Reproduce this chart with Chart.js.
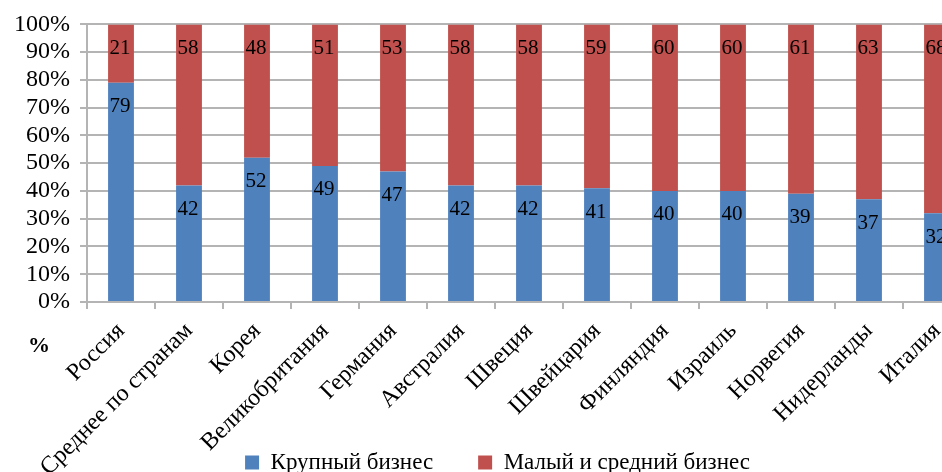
<!DOCTYPE html>
<html>
<head>
<meta charset="utf-8">
<script src="https://cdn.jsdelivr.net/npm/chart.js@4.4.1/dist/chart.umd.min.js"></script>
<style>
    html, body { margin: 0; padding: 0; background: #fff; overflow: hidden; }
    #wrap { position: absolute; left: 0; top: 0; width: 985px; height: 550px; }
    #pct { position: absolute; left: 28px; top: 332px; font-family: 'Liberation Serif'; font-weight: bold; font-size: 22px; color: #000; }
</style>
</head>
<body>
<div id="wrap"><canvas id="chart"></canvas></div>
<div id="pct">%</div>
<script>
// Доля крупного и малого/среднего бизнеса, %
const countries = ['Россия', 'Среднее по странам', 'Корея', 'Великобритания', 'Германия', 'Австралия',
    'Швеция', 'Швейцария', 'Финляндия', 'Израиль', 'Норвегия', 'Нидерланды', 'Италия'];
const bigBusiness = [79, 42, 52, 49, 47, 42, 42, 41, 40, 40, 39, 37, 32];
const smallBusiness = [21, 58, 48, 51, 53, 58, 58, 59, 60, 60, 61, 63, 68];
const yTicks = [0, 10, 20, 30, 40, 50, 60, 70, 80, 90, 100];

const SERIF = 'Liberation Serif';
const GRID = '#b4b4b4';

// value labels placed just inside the top of each segment
const valueLabels = {
    id: 'valueLabels',
    afterDatasetsDraw(chart) {
        const ctx = chart.ctx;
        ctx.save();
        ctx.font = "21px 'Liberation Serif'";
        ctx.fillStyle = '#000';
        ctx.textAlign = 'center';
        ctx.textBaseline = 'middle';
        chart.data.datasets.forEach((ds, i) => {
            chart.getDatasetMeta(i).data.forEach((bar, j) => {
                ctx.fillText(ds.data[j], bar.x - 1, bar.y + 24);
            });
        });
        ctx.restore();
    }
};

// the rotated country names run down beside the legend, so the legend
// is pulled up from under the x axis box before drawing
const liftLegend = {
    id: 'liftLegend',
    beforeDraw(chart) {
        const lg = chart.legend;
        const h = lg.height;
        lg.top = 406;
        lg.bottom = lg.top + h;
        lg.left += 12;
        lg.right += 12;
    }
};

new Chart(document.getElementById('chart'), {
    type: 'bar',
    data: {
        labels: countries,
        datasets: [
            { label: 'Крупный бизнес', data: bigBusiness, backgroundColor: '#4f81bd' },
            { label: 'Малый и средний бизнес', data: smallBusiness, backgroundColor: '#c0504d' }
        ]
    },
    options: {
        responsive: true,
        maintainAspectRatio: false,
        animation: false,
        categoryPercentage: 1,
        barPercentage: 0.38,
        font: { family: SERIF },
        layout: { padding: { top: 23, left: 0, right: 14, bottom: 0 } },
        plugins: {
            legend: {
                position: 'bottom',
                labels: {
                    color: '#000',
                    font: { family: SERIF, size: 23 },
                    boxWidth: 14,
                    boxHeight: 14,
                    padding: 45
                }
            },
            tooltip: { enabled: false }
        },
        scales: {
            x: {
                stacked: true,
                offset: true,
                grid: { display: true, drawOnChartArea: false, color: GRID, lineWidth: 2, tickLength: 7, offset: true },
                border: { color: GRID, width: 2 },
                ticks: {
                    color: '#000',
                    font: { family: SERIF, size: 24 },
                    autoSkip: false,
                    minRotation: 45,
                    maxRotation: 45,
                    padding: 8
                },
                afterFit: (scale) => { scale.height = 170; }
            },
            y: {
                stacked: true,
                min: 0,
                max: 100,
                afterBuildTicks: (scale) => { scale.ticks = yTicks.map(v => ({ value: v })); },
                grid: { color: GRID, lineWidth: 2, tickLength: 7 },
                border: { color: GRID, width: 2 },
                ticks: {
                    color: '#000',
                    font: { family: SERIF, size: 24 },
                    autoSkip: false,
                    padding: 10,
                    callback: (v) => v + '%'
                },
                afterFit: (scale) => { scale.width = 87; }
            }
        }
    },
    plugins: [valueLabels, liftLegend]
});
</script>
</body>
</html>
